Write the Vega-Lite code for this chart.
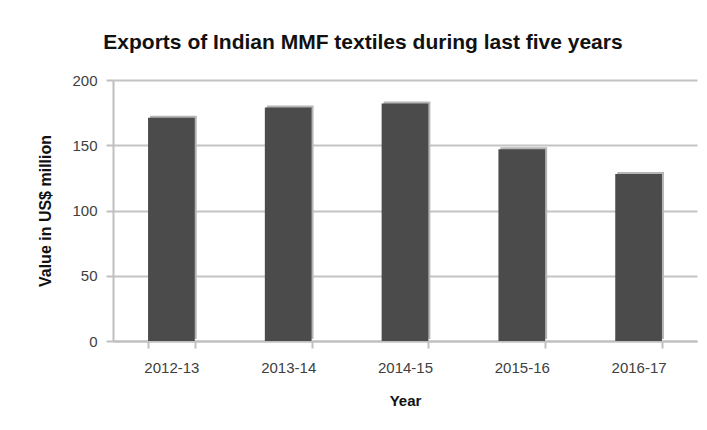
{
  "$schema": "https://vega.github.io/schema/vega-lite/v6.json",
  "autosize": {"type": "none"},
  "padding": {"left": 113, "top": 80, "right": 10, "bottom": 89},
  "width": 584,
  "height": 261,
  "background": "white",
  "title": {
    "text": "Exports of Indian MMF textiles during last five years",
    "font": "Liberation Sans",
    "fontSize": 21,
    "fontWeight": "bold",
    "color": "#111111",
    "anchor": "middle",
    "dx": -42,
    "offset": 20
  },
  "data": {
    "values": [
      {"Year": "2012-13", "Value": 171},
      {"Year": "2013-14", "Value": 179},
      {"Year": "2014-15", "Value": 182},
      {"Year": "2015-16", "Value": 147},
      {"Year": "2016-17", "Value": 128}
    ]
  },
  "encoding": {
    "x": {
      "field": "Year",
      "type": "nominal",
      "sort": null,
      "scale": {"paddingInner": 0.6, "paddingOuter": 0.3},
      "axis": {
        "title": "Year",
        "labelAngle": 0,
        "tickBand": "extent",
        "domainColor": "#bfbfbf",
        "domainWidth": 2,
        "tickColor": "#bfbfbf",
        "tickWidth": 2,
        "tickSize": 7,
        "labelFont": "Liberation Sans",
        "labelFontSize": 15,
        "labelColor": "#404040",
        "labelPadding": 12,
        "titleFont": "Liberation Sans",
        "titleFontSize": 15,
        "titleFontWeight": "bold",
        "titleColor": "#111111",
        "titlePadding": 18
      }
    },
    "y": {
      "field": "Value",
      "type": "quantitative",
      "scale": {"domain": [0, 200]},
      "axis": {
        "title": "Value in US$ million",
        "values": [0, 50, 100, 150, 200],
        "grid": true,
        "gridColor": "#c4c4c4",
        "gridWidth": 2,
        "domainColor": "#bfbfbf",
        "domainWidth": 2,
        "tickColor": "#bfbfbf",
        "tickWidth": 2,
        "tickSize": 7,
        "labelFont": "Liberation Sans",
        "labelFontSize": 15,
        "labelColor": "#404040",
        "labelPadding": 9,
        "titleFont": "Liberation Sans",
        "titleFontSize": 16,
        "titleFontWeight": "bold",
        "titleColor": "#111111",
        "titleAngle": -90,
        "titleX": -68,
        "titleBaseline": "middle"
      }
    }
  },
  "layer": [
    {"mark": {"type": "bar", "color": "#b5b5b5", "xOffset": 2, "yOffset": -2}},
    {"mark": {"type": "bar", "color": "#4b4b4b"}}
  ],
  "config": {"view": {"stroke": null}}
}
